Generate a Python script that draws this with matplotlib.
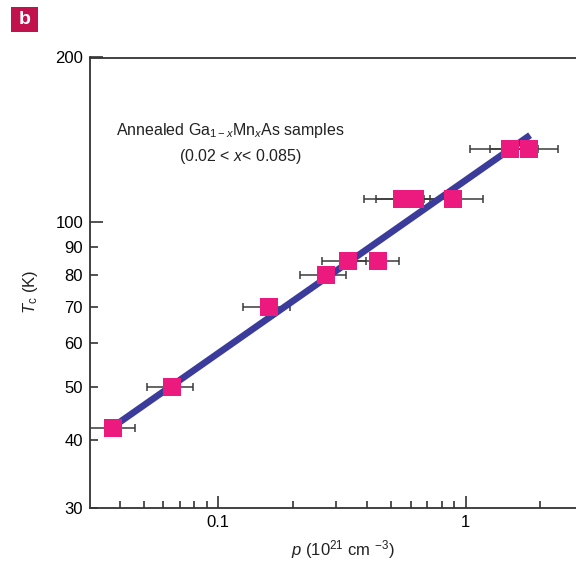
import matplotlib
matplotlib.use("Agg")
import matplotlib.pyplot as plt
from matplotlib.patches import Rectangle
from matplotlib.ticker import FixedLocator, NullFormatter, FixedFormatter
import numpy as np

plt.rcParams['font.family'] = ['Liberation Sans', 'DejaVu Sans']
plt.rcParams['mathtext.fontset'] = 'custom'
plt.rcParams['mathtext.rm'] = 'Liberation Sans'
plt.rcParams['mathtext.it'] = 'Liberation Sans:italic'

# data (hole density in 1e21 cm^-3, Curie temperature in K)
p    = [0.0376, 0.0652, 0.160, 0.272, 0.335, 0.440, 0.555, 0.626, 0.891, 1.51, 1.80]
Tc   = [42, 50, 70, 80, 85, 85, 110, 110, 110, 136, 136]
p_lo = [0.029, 0.0513, 0.126, 0.214, 0.263, 0.36, 0.388, 0.434, 0.68, 1.04, 1.254]
p_hi = [0.046, 0.0793, 0.194, 0.327, 0.395, 0.535, 0.718, 0.87, 1.171, 1.95, 2.355]

fit_p = [0.0358, 1.82]
fit_T = [41.6, 144.2]

yticks_major = [100, 200]
yticks_minor = [30, 40, 50, 60, 70, 80, 90]
xticks_major = [0.1, 1]

fig = plt.figure(figsize=(5.76, 5.63), dpi=100)
ax = fig.add_axes([90/576, 1-508/563, 1-90/576, (508-57.5)/563])
ax.set_xscale('log')
ax.set_yscale('log')
ax.set_xlim(0.0303, 2.79)
ax.set_ylim(30, 200)

pa = np.array(p); la = np.array(p_lo); ha = np.array(p_hi)
ax.errorbar(p, Tc, xerr=[pa - la, ha - pa], fmt='none', ecolor='#3a3a3a',
            elinewidth=1.1, capsize=3, capthick=1.1, zorder=2, clip_on=True)
ax.plot(fit_p, fit_T, color='#3b3b9c', lw=4.8, solid_capstyle='butt', zorder=3)
ax.plot(p, Tc, 's', color='#EC1A7E', markersize=13.5, markeredgewidth=0, zorder=4)

for s in ['left', 'bottom', 'top']:
    ax.spines[s].set_linewidth(1.3)
    ax.spines[s].set_color('#333333')
ax.spines['right'].set_visible(False)

# x ticks
ax.xaxis.set_major_locator(FixedLocator(xticks_major))
ax.xaxis.set_major_formatter(FixedFormatter(['0.1', '1']))
ax.xaxis.set_minor_formatter(NullFormatter())
ax.tick_params(axis='x', which='major', direction='in', length=9, width=1.2,
               labelsize=12, pad=5, color='#333333', top=False)
ax.tick_params(axis='x', which='minor', direction='in', length=5, width=1.2,
               color='#333333', top=False)

# y ticks
ax.yaxis.set_major_locator(FixedLocator(yticks_major))
ax.yaxis.set_major_formatter(FixedFormatter([str(v) for v in yticks_major]))
ax.yaxis.set_minor_locator(FixedLocator(yticks_minor))
ax.yaxis.set_minor_formatter(FixedFormatter([str(v) for v in yticks_minor]))
ax.tick_params(axis='y', which='major', direction='in', length=9, width=1.2,
               labelsize=12, pad=5, color='#333333', right=False)
ax.tick_params(axis='y', which='minor', direction='in', length=6, width=1.2,
               labelsize=12, pad=5, color='#333333', right=False)

ax.text(230/576, 1-131/563, r'Annealed Ga$_{1-x}$Mn$_x$As samples', transform=fig.transFigure,
        ha='center', va='center', fontsize=11.5, color='#222222')
ax.text(240/576, 1-156/563, r'(0.02 < $x$< 0.085)', transform=fig.transFigure,
        ha='center', va='center', fontsize=11.5, color='#222222')

fig.text(343/576, 1-550/563, r'$p$ (10$^{21}$ cm $^{-3}$)', ha='center', va='center',
         fontsize=12, color='#222222')
fig.text(30/576, 1-292/563, r'$T_{\rm c}$ (K)', ha='center', va='center', rotation=90,
         fontsize=12, color='#222222')

fig.patches.append(Rectangle((11/576, 1-32/563), 27/576, 25/563, transform=fig.transFigure,
                             facecolor='#C2124D', edgecolor='none'))
fig.text(24.5/576, 1-19.5/563, 'b', ha='center', va='center', fontsize=14,
         fontweight='bold', color='white')

fig.savefig('out.png', dpi=100)
